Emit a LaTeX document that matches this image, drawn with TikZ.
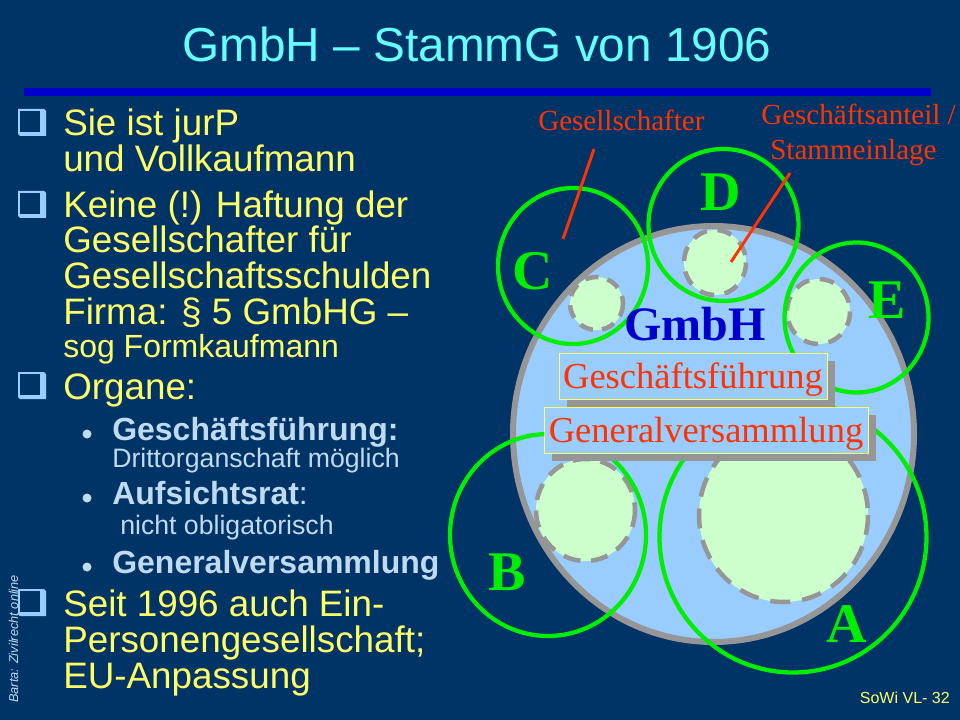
\documentclass[tikz,border=0pt]{standalone}
\usepackage{fontspec}
\setmainfont{Liberation Serif}
\setsansfont{Liberation Sans}
\usetikzlibrary{shadows}
\definecolor{slidebg}{HTML}{003366}
\definecolor{barblue}{HTML}{0000CC}
\definecolor{skyfill}{HTML}{99CCFF}
\definecolor{paleleaf}{HTML}{CCFFCC}
\definecolor{rimgray}{HTML}{969696}
\definecolor{ownergreen}{HTML}{00EE00}
\definecolor{notered}{HTML}{FF3300}
\definecolor{bodyyellow}{HTML}{FFFF66}
\definecolor{subblue}{HTML}{C0DAF0}
\definecolor{titlecyan}{HTML}{66FFFF}
\newcommand{\fs}[1]{\fontsize{#1}{#1}\selectfont}
\tikzstyle{line1}=[anchor=base west,inner sep=0,text=bodyyellow,font=\sffamily\fs{27.6}]
\tikzstyle{line2}=[anchor=base west,inner sep=0,text=subblue,font=\sffamily\fs{20}]
\tikzstyle{line3}=[line2,font=\sffamily\bfseries\fs{24}]
\tikzstyle{owner}=[anchor=base west,inner sep=0,text=ownergreen,font=\bfseries\fs{42}]
\tikzstyle{note}=[anchor=base west,inner sep=0,text=notered,font=\fs{21.8}]
\tikzstyle{organ}=[draw=bodyyellow,line width=0.6pt,fill=skyfill,inner sep=0,text=notered,font=\fs{27.4},
  text height=26.25pt,text depth=8.25pt,
  drop shadow={shadow xshift=6pt,shadow yshift=-6pt,fill=rimgray,opacity=1}]
\tikzstyle{share}=[draw=rimgray,line width=3.4pt,fill=paleleaf]
\tikzstyle{partner}=[draw=ownergreen,line width=3.2pt]
\tikzstyle{pointer}=[draw=notered,line width=2.2pt]
\tikzset{qbullet/.pic={
  \fill[skyfill] (-1,-26) -- (25,-26) -- (27,-24) -- (27,1) -- (1,1) -- (-1,-1) -- cycle;
  \fill[slidebg] (1,-24) -- (21,-24) -- (21,-3) -- (1,-3) -- cycle;
}}
\begin{document}
\begin{tikzpicture}[x=0.75pt,y=-0.75pt]
\useasboundingbox (0,0) rectangle (960,720);
\fill[slidebg] (0,0) rectangle (960,720);
\node [anchor=base,inner sep=0,text=titlecyan,font=\sffamily\fs{35.8}] (title) at (477,62) {GmbH – StammG von 1906};
\fill[barblue] (24,88) rectangle (931,96);

% left column
\node [rotate=90,anchor=base west,inner sep=0,text=subblue,font=\sffamily\itshape\fs{9.6}] (src) at (18,703) {Barta: Zivilrecht online};
\foreach \y in {135,217,398,615} \pic at (19,\y) {qbullet};
\foreach \y in {434,498,567} \fill[subblue] (87,\y) circle (4.5);
\node [line1] (t1) at (63,136) {Sie ist jurP};
\node [line1] (t2) at (63,172) {und Vollkaufmann};
\node [line1] (t3) at (63,218) {Keine (!) Haftung der};
\node [line1] (t4) at (63,253) {Gesellschafter für};
\node [line1] (t5) at (63,289) {Gesellschaftsschulden};
\node [line1] (t6) at (63,325) {Firma: § 5 GmbHG –};
\node [line1,font=\sffamily\fs{24}] (t7) at (63,357) {sog Formkaufmann};
\node [line1] (t8) at (63,399) {Organe:};
\node [line3] (s1) at (112,440) {Geschäftsführung:};
\node [line2] (s2) at (112,467) {Drittorganschaft möglich};
\node [line2,font=\sffamily\fs{24}] (s3) at (112,504) {\textbf{Aufsichtsrat}:};
\node [line2] (s4) at (120,534) {nicht obligatorisch};
\node [line3] (s5) at (112,573) {Generalversammlung};
\node [line1] (t9) at (63,616) {Seit 1996 auch Ein-};
\node [line1] (t10) at (63,652) {Personengesellschaft;};
\node [line1] (t11) at (63,688) {EU-Anpassung};
\node [anchor=base east,inner sep=0,text=bodyyellow,font=\sffamily\fs{12}] (page) at (950,703) {SoWi VL- 32};

% company with shares
\draw[draw=rimgray,line width=4.5pt,fill=skyfill] (713.5,434) ellipse [x radius=200.5,y radius=208];
\foreach \cx/\cy/\rx/\ry/\don/\doff in {596.5/303.5/26.5/26.5/10/7, 715/262.5/31/32.5/11/8, 818.5/311.5/31.5/32.5/11/8,
    585.5/510/49.5/51/13/8, 783.5/515/84.5/87/15/9}
  \draw[share,dash pattern=on \don pt off \doff pt] (\cx,\cy) ellipse [x radius=\rx,y radius=\ry];
\foreach \cx/\cy/\rx/\ry in {573/266/75/78, 723.5/225/75/76, 856.5/317.5/72/75, 548/535/98/101, 793/537/133.5/135.5}
  \draw[partner] (\cx,\cy) ellipse [x radius=\rx,y radius=\ry];

% labels
\node [owner] (a) at (826,642) {A};
\node [owner] (b) at (488,590) {B};
\node [owner] (c) at (512,290) {C};
\node [owner] (d) at (700,211) {D};
\node [owner] (e) at (868,319) {E};
\node [anchor=base west,inner sep=0,text=barblue,font=\bfseries\fs{36}] (gmbh) at (624,340) {GmbH};
\node [organ,minimum width=201pt] (gf) at (693,376) {Geschäftsführung};
\node [organ,minimum width=243pt] (gv) at (706,430) {Generalversammlung};
\node [note] (n1) at (538,131) {Gesellschafter};
\node [note] (n2) at (761,125) {Geschäftsanteil /};
\node [note] (n3) at (770,160) {Stammeinlage};
\coordinate (p1) at (594,149);
\coordinate (q1) at (563,239);
\coordinate (p2) at (790,173);
\coordinate (q2) at (731,262);
\draw[pointer] (p1) -- (q1);
\draw[pointer] (p2) -- (q2);
\end{tikzpicture}
\end{document}
